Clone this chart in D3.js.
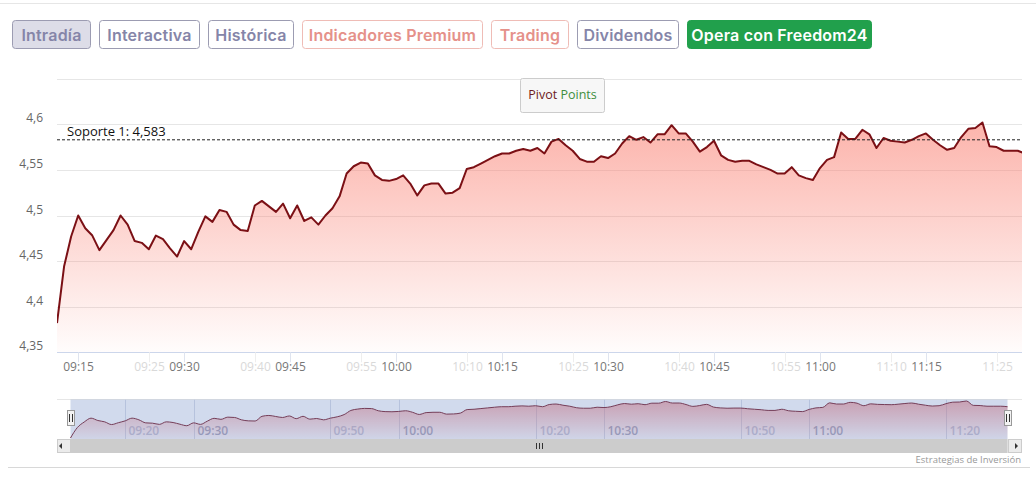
<!DOCTYPE html>
<html>
<head>
<meta charset="utf-8">
<script src="https://cdn.jsdelivr.net/npm/d3@7"></script>
<style>
  body { margin: 0; background: #fff; }
  svg text { font-family: "Open Sans", sans-serif; }
  .btn text { font-family: Inter, "Open Sans", sans-serif; font-weight: 600; font-size: 16px; letter-spacing: 0.2px; }
</style>
</head>
<body>
<div id="chart"></div>
<script>
// datos del gráfico intradía (1 punto por minuto desde 09:12)
const startTime = "09:12";
const precios = [
  4.382, 4.444, 4.477, 4.500, 4.486, 4.478, 4.462, 4.473, 4.484, 4.500,
  4.490, 4.472, 4.470, 4.463, 4.478, 4.474, 4.464, 4.455, 4.472, 4.463,
  4.482, 4.499, 4.493, 4.506, 4.504, 4.490, 4.484, 4.483, 4.511, 4.516,
  4.510, 4.504, 4.513, 4.497, 4.511, 4.494, 4.498, 4.490, 4.500, 4.508,
  4.521, 4.546, 4.554, 4.558, 4.557, 4.544, 4.539, 4.538, 4.540, 4.544,
  4.535, 4.522, 4.533, 4.535, 4.535, 4.524, 4.525, 4.530, 4.551, 4.553,
  4.557, 4.561, 4.565, 4.568, 4.568, 4.571, 4.573, 4.571, 4.574, 4.568,
  4.581, 4.584, 4.577, 4.571, 4.562, 4.559, 4.559, 4.565, 4.563, 4.568,
  4.579, 4.587, 4.583, 4.586, 4.580, 4.589, 4.589, 4.599, 4.590, 4.590,
  4.581, 4.570, 4.575, 4.582, 4.566, 4.561, 4.559, 4.560, 4.560, 4.556,
  4.553, 4.550, 4.546, 4.546, 4.553, 4.544, 4.541, 4.539, 4.552, 4.561,
  4.564, 4.591, 4.584, 4.584, 4.594, 4.589, 4.574, 4.585, 4.582, 4.581,
  4.580, 4.583, 4.587, 4.590, 4.583, 4.577, 4.572, 4.574, 4.586, 4.595,
  4.596, 4.602, 4.576, 4.575, 4.571, 4.571, 4.571, 4.568
];
const soporte = 4.583;
const yTicks = [4.35, 4.4, 4.45, 4.5, 4.55, 4.6, 4.65];
const xTicksMain = ["09:15", "09:30", "09:45", "10:00", "10:15", "10:30", "10:45", "11:00", "11:15"];
const xTicksFaded = ["09:25", "09:40", "09:55", "10:10", "10:25", "10:40", "10:55", "11:10", "11:25"];
const navTicksMain = ["09:30", "10:00", "10:30", "11:00"];
const navTicksFaded = ["09:20", "09:50", "10:20", "10:50", "11:20"];
const botones = ["Intradía", "Interactiva", "Histórica", "Indicadores Premium", "Trading", "Dividendos", "Opera con Freedom24"];
const tiposBoton = ["activo", "normal", "normal", "rosa", "rosa", "normal", "verde"];

const parseT = d3.timeParse("%H:%M");
const t0 = parseT(startTime);
const data = precios.map((v, i) => ({ t: d3.timeMinute.offset(t0, i), v: v }));

const W = 1036, H = 477;
const svg = d3.select("#chart").append("svg").attr("width", W).attr("height", H);

// linea superior y inferior de la página
svg.append("line").attr("x1", 0).attr("x2", W).attr("y1", 3.5).attr("y2", 3.5).attr("stroke", "#e6e6e6");
svg.append("line").attr("x1", 8).attr("x2", 1030).attr("y1", 467.5).attr("y2", 467.5).attr("stroke", "#d8d8d8");

// botones
const estilos = {
  activo: { fill: "#dddde8", stroke: "#9c9cb2", color: "#8585a8" },
  normal: { fill: "#fff", stroke: "#9c9cb2", color: "#8585a8" },
  rosa:   { fill: "#fff", stroke: "#efbcb6", color: "#e5918a" },
  verde:  { fill: "#21a04c", stroke: "#21a04c", color: "#fff" }
};
const anchos = [78, 100, 85, 180, 77, 101, 184];
let bx = 12.5;
botones.forEach(function(b, i) {
  const st = estilos[tiposBoton[i]];
  const g = svg.append("g").attr("class", "btn");
  g.append("rect")
    .attr("x", bx).attr("y", 20.5).attr("width", anchos[i]).attr("height", 28).attr("rx", 3)
    .attr("fill", st.fill).attr("stroke", st.stroke);
  g.append("text").attr("x", bx + anchos[i] / 2).attr("y", 41).attr("text-anchor", "middle")
    .attr("fill", st.color).text(b);
  bx += anchos[i] + 9;
});

// area principal
const margin = { left: 57, right: 1022, top: 78.7, bottom: 352.3 };
const x = d3.scaleTime()
  .domain([t0, d3.timeSecond.offset(t0, Math.round(136.6 * 60))])
  .range([margin.left, margin.right]);
const y = d3.scaleLinear().domain([4.35, 4.65]).range([margin.bottom, margin.top]);

const defs = svg.append("defs");
const grad = defs.append("linearGradient").attr("id", "fillMain")
  .attr("gradientUnits", "userSpaceOnUse").attr("x1", 0).attr("x2", 0)
  .attr("y1", margin.top).attr("y2", margin.bottom);
grad.append("stop").attr("offset", "0%").attr("stop-color", "#fa8072").attr("stop-opacity", 0.7);
grad.append("stop").attr("offset", "100%").attr("stop-color", "#fa8072").attr("stop-opacity", 0.02);

defs.append("clipPath").attr("id", "clipMain").append("rect")
  .attr("x", margin.left).attr("y", 0).attr("width", margin.right - margin.left).attr("height", margin.bottom);

// grid horizontal
svg.append("g").selectAll("line").data(yTicks).enter().append("line")
  .attr("x1", margin.left).attr("x2", margin.right)
  .attr("y1", d => Math.round(y(d)) + 0.5).attr("y2", d => Math.round(y(d)) + 0.5)
  .attr("stroke", d => d === 4.35 ? "#ccd6eb" : "#e6e6e6");

// etiquetas eje y
svg.append("g").selectAll("text").data(yTicks.filter(d => d < 4.64)).enter().append("text")
  .attr("x", 43).attr("y", d => y(d) - 2)
  .attr("text-anchor", "end").attr("font-size", 12).attr("fill", "#666")
  .text(d => d3.format(".2~f")(d).replace(".", ","));

// eje x
const ticksG = svg.append("g");
function dibujaTicks(lista, color, tickColor) {
  lista.forEach(function(s) {
    const xx = Math.round(x(parseT(s))) + 0.5;
    ticksG.append("line").attr("x1", xx).attr("x2", xx).attr("y1", margin.bottom).attr("y2", margin.bottom + 10)
      .attr("stroke", tickColor);
    ticksG.append("text").attr("x", xx).attr("y", 371).attr("text-anchor", "middle")
      .attr("font-size", 12).attr("fill", color).text(s);
  });
}
dibujaTicks(xTicksFaded, "#d9d9d9", "#eeeeee");
dibujaTicks(xTicksMain, "#777", "#dfe4ef");

const area = d3.area().x(d => x(d.t)).y0(margin.bottom).y1(d => y(d.v));
const line = d3.line().x(d => x(d.t)).y(d => y(d.v));
const plot = svg.append("g").attr("clip-path", "url(#clipMain)");
plot.append("path").datum(data).attr("d", area).attr("fill", "url(#fillMain)");
plot.append("path").datum(data).attr("d", line).attr("fill", "none")
  .attr("stroke", "#7b1015").attr("stroke-width", 2).attr("stroke-linejoin", "round");

// soporte
svg.append("line").attr("x1", margin.left).attr("x2", margin.right)
  .attr("y1", y(soporte)).attr("y2", y(soporte))
  .attr("stroke", "#222").attr("stroke-width", 1).attr("stroke-dasharray", "3,2");
svg.append("text").attr("x", 67).attr("y", y(soporte) - 4).attr("font-size", 13).attr("fill", "#111")
  .text("Soporte 1: " + String(soporte).replace(".", ","));

// boton Pivot Points
svg.append("rect").attr("x", 520.5).attr("y", 78.5).attr("width", 84).attr("height", 34).attr("rx", 2)
  .attr("fill", "#f7f7f7").attr("stroke", "#cccccc");
const pv = svg.append("text").attr("x", 562.5).attr("y", 98.5).attr("text-anchor", "middle").attr("font-size", 12.5);
pv.append("tspan").attr("fill", "#6e1b1b").text("Pivot ");
pv.append("tspan").attr("fill", "#3e8e3e").text("Points");

// navegador
const nav = { left: 57, right: 1022, top: 399.5, bottom: 439, h0: 70.5, h1: 1007.5 };
const xn = d3.scaleTime().domain(d3.extent(data, d => d.t)).range([nav.h0, nav.h1]);
const yn = d3.scaleLinear().domain(d3.extent(precios)).range([438, 401]);

svg.append("line").attr("x1", nav.left).attr("x2", nav.right).attr("y1", nav.top).attr("y2", nav.top)
  .attr("stroke", "#e6e6e6");
const gradN = defs.append("linearGradient").attr("id", "fillNav")
  .attr("gradientUnits", "userSpaceOnUse").attr("x1", 0).attr("x2", 0).attr("y1", 401).attr("y2", nav.bottom);
gradN.append("stop").attr("offset", "0%").attr("stop-color", "#e86a6a").attr("stop-opacity", 0.55);
gradN.append("stop").attr("offset", "100%").attr("stop-color", "#e86a6a").attr("stop-opacity", 0.05);

// rejilla y etiquetas del navegador
function navTicks(lista, color) {
  lista.forEach(function(s) {
    const xx = Math.round(xn(parseT(s))) + 0.5;
    svg.append("line").attr("x1", xx).attr("x2", xx).attr("y1", nav.top).attr("y2", nav.bottom)
      .attr("stroke", "#d8dde8");
    svg.append("text").attr("x", xx + 3).attr("y", 435).attr("font-size", 12).attr("font-weight", 600)
      .attr("fill", color).text(s);
  });
}
navTicks(navTicksFaded, "#c4cadb");
navTicks(navTicksMain, "#a3aac0");

const areaN = d3.area().x(d => xn(d.t)).y0(nav.bottom).y1(d => yn(d.v)).curve(d3.curveMonotoneX);
const lineN = d3.line().x(d => xn(d.t)).y(d => yn(d.v)).curve(d3.curveMonotoneX);
svg.append("path").datum(data).attr("d", areaN).attr("fill", "url(#fillNav)");
svg.append("path").datum(data).attr("d", lineN).attr("fill", "none").attr("stroke", "#7b1f2a").attr("stroke-width", 1);

// mascara seleccionada
svg.append("rect").attr("x", nav.h0).attr("y", nav.top).attr("width", nav.h1 - nav.h0).attr("height", nav.bottom - nav.top)
  .attr("fill", "rgba(102,133,194,0.3)");

// manejadores
[nav.h0, nav.h1].forEach(function(hx) {
  const g = svg.append("g").attr("transform", "translate(" + Math.round(hx) + ",410)");
  g.append("rect").attr("x", -3.5).attr("y", 0.5).attr("width", 7).attr("height", 15).attr("fill", "#f2f2f2").attr("stroke", "#999");
  g.append("line").attr("x1", -1.5).attr("x2", -1.5).attr("y1", 4).attr("y2", 12).attr("stroke", "#333");
  g.append("line").attr("x1", 1.5).attr("x2", 1.5).attr("y1", 4).attr("y2", 12).attr("stroke", "#333");
});

// barra de desplazamiento
svg.append("rect").attr("x", nav.left).attr("y", 439).attr("width", nav.right - nav.left).attr("height", 14).attr("fill", "#f2f2f2");
svg.append("rect").attr("x", nav.h0).attr("y", 439).attr("width", nav.h1 - nav.h0).attr("height", 14).attr("fill", "#cccccc");
[[nav.left, "M62,443 L62,449 L59,446 Z"], [nav.right - 14, "M1015,443 L1015,449 L1018,446 Z"]].forEach(function(b) {
  svg.append("rect").attr("x", b[0] + 0.5).attr("y", 439.5).attr("width", 13).attr("height", 13).attr("fill", "#ebebeb").attr("stroke", "#cccccc");
  svg.append("path").attr("d", b[1]).attr("fill", "#333");
});
const cx = Math.round((nav.h0 + nav.h1) / 2);
[-3, 0, 3].forEach(function(dx) {
  svg.append("line").attr("x1", cx + dx + 0.5).attr("x2", cx + dx + 0.5).attr("y1", 443).attr("y2", 449).attr("stroke", "#333");
});

// credito
svg.append("text").attr("x", 1021).attr("y", 463).attr("text-anchor", "end").attr("font-size", 9.5).attr("fill", "#999")
  .text("Estrategias de Inversión");
</script>
</body>
</html>
